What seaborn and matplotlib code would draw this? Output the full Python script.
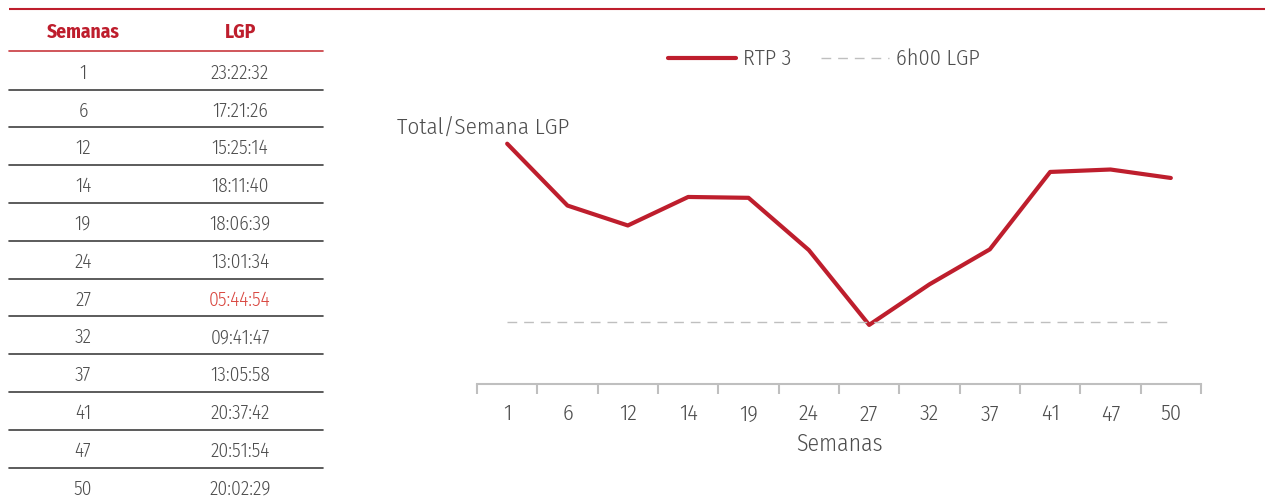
import matplotlib
matplotlib.use("Agg")
import matplotlib.pyplot as plt
import seaborn as sns
import pandas as pd

semanas = ["1", "6", "12", "14", "19", "24", "27", "32", "37", "41", "47", "50"]
lgp = ["23:22:32", "17:21:26", "15:25:14", "18:11:40", "18:06:39", "13:01:34",
       "05:44:54", "09:41:47", "13:05:58", "20:37:42", "20:51:54", "20:02:29"]
limite_horas = 6.0
destaque = "05:44:54"

RED = "#BE1E2D"
GREY_TXT = "#4D4D4D"

def to_hours(s):
    h, m, sec = [int(v) for v in s.split(":")]
    return h + m / 60 + sec / 3600

df = pd.DataFrame({"pos": range(len(semanas)), "semana": semanas,
                   "horas": [to_hours(v) for v in lgp]})

sns.set_theme(style="white")
plt.rcParams["font.family"] = ["Fira Sans Condensed", "Barlow Semi Condensed", "DejaVu Sans"]
plt.rcParams["font.weight"] = 300
plt.rcParams["axes.labelweight"] = 300

W, H = 1265, 498
fig = plt.figure(figsize=(W / 100, H / 100), dpi=100)

# background axes in pixel coords for the table
bg = fig.add_axes([0, 0, 1, 1])
bg.set_xlim(0, W)
bg.set_ylim(H, 0)
bg.axis("off")

bg.plot([9, W], [9, 9], color=RED, lw=1.5, solid_capstyle="butt")
bg.text(83, 32, "Semanas", color=RED, fontsize=14, fontweight="bold", ha="center", va="center")
bg.text(240, 32, "LGP", color=RED, fontsize=14, fontweight="bold", ha="center", va="center")
bg.plot([9, 323], [51, 51], color="#C8383E", lw=1.2)
for i, (s, v) in enumerate(zip(semanas, lgp)):
    y = 73 + 37.8 * i
    bg.text(83, y, s, color=GREY_TXT, fontsize=14, ha="center", va="center")
    bg.text(240, y, v, color="#D9463F" if v == destaque else GREY_TXT,
            fontsize=14, ha="center", va="center")
    if i < len(semanas) - 1:
        bg.plot([9, 323], [y + 16.5, y + 16.5], color="#404040", lw=1.2)

# chart
ax = fig.add_axes([477 / W, 1 - 384 / H, (1201 - 477) / W, (384 - 127) / H])
sns.lineplot(data=df, x="pos", y="horas", ax=ax, color=RED, lw=3, label="RTP 3")
ax.plot([0, len(semanas) - 1], [limite_horas, limite_horas], color="#BFBFBF",
        lw=1, dashes=(7, 5), label="6h00 LGP")
ax.set_xlim(-0.5, len(semanas) - 0.5)
ax.set_ylim(0, 25)
ax.set_xticks(df["pos"])
ax.set_xticklabels(semanas)
ax.set_xticks([p - 0.5 for p in range(len(semanas) + 1)], minor=True)
ax.tick_params(axis="x", which="major", bottom=False, length=0, pad=14, labelsize=16, labelcolor=GREY_TXT)
ax.tick_params(axis="x", which="minor", bottom=True, length=7, width=1.5, color="#BFBFBF", direction="out")
ax.set_yticks([])
ax.set_ylabel("")
ax.set_xlabel("Semanas", fontsize=17, color=GREY_TXT, labelpad=6)
for side in ["top", "right", "left"]:
    ax.spines[side].set_visible(False)
ax.spines["bottom"].set_color("#BFBFBF")
ax.spines["bottom"].set_linewidth(1.5)

fig.text(397 / W, 1 - 127 / H, "Total/Semana LGP", fontsize=16.6, color=GREY_TXT,
         ha="left", va="center")

ax.legend(loc="center", bbox_to_anchor=(824 / W, 1 - 59 / H), bbox_transform=fig.transFigure,
          ncol=2, frameon=False, fontsize=16, handlelength=3.05, columnspacing=1.35,
          handletextpad=0.33, labelcolor=GREY_TXT)

fig.savefig("out.png", dpi=100)
